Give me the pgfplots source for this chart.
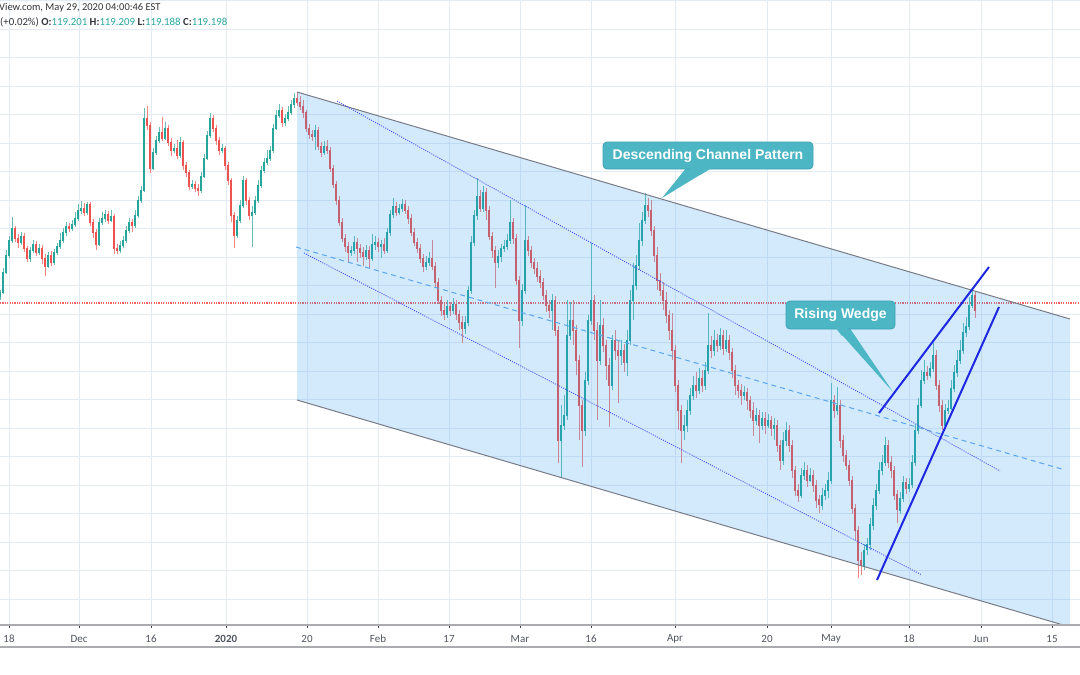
\documentclass[border=0pt]{standalone}
\usepackage{fontspec}
\setmainfont{Carlito}
\newfontfamily\annfont{Liberation Sans}
\usepackage{pgfplots}
\usepackage{pgfplotstable}
\pgfplotsset{compat=1.18}
\definecolor{cgreen}{RGB}{38,166,154}
\definecolor{cred}{RGB}{239,83,80}
\definecolor{wgreen}{RGB}{100,190,182}
\definecolor{wred}{RGB}{242,132,130}
\definecolor{gridc}{RGB}{228,235,242}
\definecolor{chfill}{RGB}{33,150,243}
\definecolor{chline}{RGB}{120,123,134}
\definecolor{dotblue}{RGB}{70,80,240}
\definecolor{dashblue}{RGB}{90,165,240}
\definecolor{wedgec}{RGB}{30,40,225}
\definecolor{callout}{RGB}{77,182,196}
\definecolor{calloutb}{RGB}{58,162,180}
\definecolor{txt}{RGB}{50,52,58}
\definecolor{axtxt}{RGB}{80,84,94}
\definecolor{hdrteal}{RGB}{38,166,154}
\definecolor{stripc}{RGB}{170,171,175}
\definecolor{pricec}{RGB}{240,100,100}

\pgfplotsset{
 upc/.style={restrict expr to domain={\thisrow{o}-\thisrow{c}}{0.001:100000}},
 dnc/.style={restrict expr to domain={\thisrow{o}-\thisrow{c}}{-100000:0}},
 candle/.style={draw=none, mark=none, forget plot},
}

% pixel-row values (down = larger); x in px
\pgfplotstableread{
x o h l c
0 296 290 300 292
3 292 268 294 272
6 272 250 274 255
9 255 236 258 240
12 240 217 243 228
15 228 226 242 238
18 238 234 248 242
21 242 232 245 236
24 236 233 252 248
27 248 246 262 258
30 258 247 262 250
33 250 240 253 244
36 244 241 256 252
39 252 244 255 248
42 248 245 264 258
45 258 254 276 266
48 266 252 268 255
51 255 251 266 262
54 262 249 265 252
57 252 243 255 246
60 246 233 249 240
63 240 228 243 232
66 232 222 236 226
69 226 223 232 228
72 228 220 231 224
75 224 212 227 218
78 218 204 221 210
81 210 201 214 208
84 208 203 216 212
87 212 202 215 204
90 204 202 226 222
93 222 219 238 232
96 232 229 250 244
99 244 218 246 222
102 222 212 225 218
105 218 210 222 214
108 214 211 224 220
111 220 210 222 216
114 216 214 254 248
117 248 244 254 250
120 250 241 253 245
123 245 236 248 240
126 240 226 243 230
129 230 218 233 222
132 222 219 232 225
135 225 210 228 215
138 215 196 218 200
141 200 186 203 190
144 190 108 192 118
147 118 106 130 125
150 125 122 173 168
153 168 148 170 152
156 152 136 155 140
159 140 127 143 132
162 132 117 141 138
165 138 122 140 128
168 128 125 146 142
171 142 138 156 150
174 150 144 153 148
177 148 140 159 155
180 155 137 158 142
183 142 140 170 165
186 165 162 177 172
189 172 170 190 186
192 186 180 189 184
195 184 181 192 188
198 188 184 196 190
201 190 172 193 176
204 176 154 178 158
207 158 131 160 135
210 135 113 138 118
213 118 115 132 128
216 128 125 145 140
219 140 137 155 150
222 150 144 153 148
225 148 146 170 165
228 165 162 185 180
231 180 178 222 215
234 215 212 248 235
237 235 216 238 220
240 220 200 223 205
243 205 176 208 180
246 180 178 205 200
249 200 197 220 215
252 215 206 247 212
255 212 196 215 200
258 200 180 203 185
261 185 166 188 170
264 170 158 173 162
267 162 150 165 158
270 158 146 161 150
273 150 124 153 128
276 128 110 130 115
279 115 104 118 110
282 110 107 127 122
285 122 114 126 118
288 118 106 121 112
291 112 100 115 104
294 104 93 108 98
297 98 92 106 102
300 102 96 110 106
303 106 100 118 112
306 112 110 132 128
309 128 124 139 134
312 134 130 141 136
315 136 125 150 130
318 130 127 150 146
321 146 142 157 152
324 152 141 155 146
327 146 140 154 150
330 150 147 172 168
333 168 165 188 184
336 184 181 205 200
339 200 196 226 222
342 222 218 242 238
345 238 234 252 246
348 246 242 262 252
351 252 246 256 250
354 250 236 254 242
357 242 238 262 248
360 248 244 258 252
363 252 247 266 256
366 256 245 260 250
369 250 246 268 258
372 258 234 261 244
375 244 236 250 242
378 242 238 252 246
381 246 240 258 244
384 244 238 254 250
387 250 228 253 232
390 232 210 236 214
393 214 198 218 206
396 206 202 216 212
399 212 204 215 208
402 208 199 212 204
405 204 200 214 210
408 210 206 224 218
411 218 214 236 232
414 232 228 246 242
417 242 238 253 248
420 248 244 263 258
423 258 254 272 266
426 266 256 270 262
429 262 252 266 258
432 258 240 270 266
435 266 262 287 282
438 282 278 304 300
441 300 296 316 310
444 310 304 320 314
447 314 300 318 306
450 306 302 316 310
453 310 298 314 304
456 304 300 320 314
459 314 310 330 322
462 322 316 343 328
465 328 316 334 322
468 322 286 326 290
471 290 236 294 242
474 242 210 246 215
477 215 178 220 196
480 196 190 212 208
483 208 186 212 192
486 192 188 220 210
489 210 206 240 236
492 236 232 258 250
495 250 246 288 262
498 262 250 268 256
501 256 244 262 248
504 248 240 252 246
507 246 234 250 240
510 240 200 244 222
513 222 218 244 238
516 238 234 285 280
519 280 276 348 320
522 320 284 326 290
525 290 205 294 240
528 240 236 256 250
531 250 246 268 262
534 262 258 274 268
537 268 262 282 276
540 276 270 288 282
543 282 278 300 295
546 295 290 312 305
549 305 300 318 310
552 310 294 330 300
555 300 296 336 330
558 330 326 463 440
561 440 405 477 425
564 425 395 430 415
567 415 300 420 335
570 335 302 340 320
573 320 300 345 330
576 330 325 375 360
579 360 355 440 405
582 405 400 467 430
585 430 372 436 380
588 380 315 385 320
591 320 243 325 300
594 300 295 340 330
597 330 322 420 360
600 360 300 365 325
603 325 318 352 345
606 345 340 380 365
609 365 358 427 385
612 385 335 390 340
615 340 330 360 350
618 350 340 403 355
621 355 340 365 350
624 350 344 372 362
627 362 330 376 340
630 340 290 345 300
633 300 263 320 285
636 285 255 290 265
639 265 223 270 240
642 240 212 246 220
645 220 193 224 205
648 205 198 217 210
651 210 200 236 230
654 230 226 262 255
657 255 247 290 280
660 280 273 296 290
663 290 282 310 300
666 300 292 323 315
669 315 310 340 330
672 330 313 360 350
675 350 345 392 385
678 385 380 430 410
681 410 405 463 430
684 430 415 440 425
687 425 400 432 410
690 410 388 415 395
693 395 376 400 385
696 385 372 398 390
699 390 368 394 378
702 378 370 392 385
705 385 362 390 370
708 370 313 374 345
711 345 336 358 350
714 350 330 356 340
717 340 334 352 345
720 345 328 350 335
723 335 330 355 348
726 348 330 352 340
729 340 335 360 352
732 352 348 378 370
735 370 365 395 385
738 385 380 398 390
741 390 384 405 395
744 395 386 400 392
747 392 388 410 400
750 400 396 418 410
753 410 402 436 420
756 420 408 425 415
759 415 410 443 425
762 425 412 430 418
765 418 412 434 425
768 425 414 428 420
771 420 416 436 428
774 428 418 440 425
777 425 420 452 445
780 445 440 470 460
783 460 432 465 440
786 440 422 446 430
789 430 425 452 445
792 445 440 478 470
795 470 466 496 490
798 490 484 502 495
801 495 468 498 475
804 475 462 480 470
807 470 465 487 480
810 480 468 482 475
813 475 470 492 485
816 485 480 508 500
819 500 495 513 505
822 505 488 510 495
825 495 484 500 490
828 490 472 498 480
831 480 383 484 400
834 400 395 418 410
837 410 387 415 405
840 405 400 448 440
843 440 435 462 455
846 455 450 470 465
849 465 460 486 480
852 480 476 514 508
855 508 504 540 530
858 530 526 578 560
861 560 552 575 565
864 565 544 570 550
867 550 538 555 545
870 545 518 550 525
873 525 498 530 505
876 505 484 510 490
879 490 462 494 470
882 470 455 475 462
885 462 437 466 445
888 445 440 468 462
891 462 456 478 470
894 470 466 500 495
897 495 490 523 510
900 510 492 514 498
903 498 476 502 482
906 482 478 494 488
909 488 478 492 484
912 484 455 488 462
915 462 424 466 430
918 430 398 434 405
921 405 370 408 380
924 380 360 384 372
927 372 366 380 375
930 375 362 378 368
933 368 343 372 355
936 355 350 390 385
939 385 380 412 405
942 405 400 430 425
945 425 404 428 410
948 410 400 414 408
951 408 380 410 388
954 388 365 392 372
957 372 350 377 360
960 360 340 364 350
963 350 323 354 332
966 332 317 337 326
969 326 297 330 305
972 305 290 308 295
975 295 292 318 310
}\candles

\begin{document}
\begin{tikzpicture}[x=1pt,y=1pt]
\path[use as bounding box] (0,0) rectangle (1080,-675);
\begin{axis}[
  at={(0,0)}, anchor=north west,
  width=1080pt, height=625pt, scale only axis,
  xmin=0, xmax=1080, ymin=-625, ymax=0,
  axis line style={draw=none},
  xtick={9,79,151,226,307,378,449,520,591,675,767,831,909,981,1052},
  xticklabels={18,Dec,16,{\bfseries 2020},20,Feb,17,Mar,16,Apr,20,May,18,Jun,15},
  ytick={-0.5,-29,-57,-86,-114,-143,-171,-200,-228.5,-257,-285.5,-314,-342.5,-371,-399.5,-428,-456.5,-485,-513.5,-542,-570.5,-599},
  yticklabels={},
  ytick style={draw=none},
  xtick pos=left, tick align=outside, major tick length=3pt,
  xtick style={draw=black!75, line width=0.8pt},
  x tick label style={anchor=center, yshift=-11pt, font=\fontsize{11}{13}\selectfont, text=axtxt},
  grid=major, major grid style={draw=gridc, line width=0.9pt},
  clip=true,
]
% price line
\addplot[pricec, line width=1.1pt, dash pattern=on 1.2pt off 1.2pt, mark=none, forget plot] coordinates {(0,-303) (1080,-303)};

% wicks
\addplot[candle, upc,
  error bars/.cd, y dir=both, y explicit, error mark=none,
  error bar style={draw=wgreen, line width=0.9pt}]
  table[x=x, y expr={-(\thisrow{h}+\thisrow{l})/2}, y error expr={(\thisrow{l}-\thisrow{h})/2}] {\candles};
\addplot[candle, dnc,
  error bars/.cd, y dir=both, y explicit, error mark=none,
  error bar style={draw=wred, line width=0.9pt}]
  table[x=x, y expr={-(\thisrow{h}+\thisrow{l})/2}, y error expr={(\thisrow{l}-\thisrow{h})/2}] {\candles};
% bodies
\addplot[candle, upc,
  error bars/.cd, y dir=both, y explicit, error mark=none,
  error bar style={draw=cgreen, line width=2.2pt}]
  table[x=x, y expr={-(\thisrow{o}+\thisrow{c})/2}, y error expr={abs(\thisrow{o}-\thisrow{c})/2+0.5}] {\candles};
\addplot[candle, dnc,
  error bars/.cd, y dir=both, y explicit, error mark=none,
  error bar style={draw=cred, line width=2.2pt}]
  table[x=x, y expr={-(\thisrow{o}+\thisrow{c})/2}, y error expr={abs(\thisrow{o}-\thisrow{c})/2+0.5}] {\candles};

% channel
\addplot[draw=none, fill=chfill, fill opacity=0.2, forget plot] coordinates {(297,-92) (1070,-319) (1070,-627) (297,-400)} -- cycle;
\addplot[chline, line width=1pt, mark=none, forget plot] coordinates {(297,-92) (1070,-319)};
\addplot[chline, line width=1pt, mark=none, forget plot] coordinates {(297,-400) (1070,-627)};
\addplot[dashblue, line width=1pt, mark=none, dash pattern=on 5pt off 4pt, forget plot] coordinates {(296,-247) (1065,-470)};
\addplot[dotblue, line width=0.9pt, mark=none, dash pattern=on 1pt off 1.3pt, forget plot] coordinates {(337,-101) (1000,-471)};
\addplot[dotblue, line width=0.9pt, mark=none, dash pattern=on 1pt off 1.3pt, forget plot] coordinates {(304,-253) (922,-575)};
% wedge
\addplot[wedgec, line width=2pt, mark=none, forget plot] coordinates {(879,-413) (989,-267)};
\addplot[wedgec, line width=2pt, mark=none, forget plot] coordinates {(877,-580) (999,-307)};

% callouts
\fill[callout] (axis cs:687,-167) -- (axis cs:713,-167) -- (axis cs:662,-198) -- cycle;
\filldraw[fill=callout, draw=calloutb, line width=0.8pt, rounded corners=4pt] (axis cs:603,-142) rectangle (axis cs:813,-169);
\fill[callout] (axis cs:687,-167) -- (axis cs:713,-167) -- (axis cs:700,-175) -- cycle;
\node[font=\annfont\bfseries\fontsize{14}{16}\selectfont, text=white] at (axis cs:708,-155.5) {Descending Channel Pattern};

\fill[callout] (axis cs:835,-327) -- (axis cs:849,-327) -- (axis cs:893,-392) -- cycle;
\filldraw[fill=callout, draw=calloutb, line width=0.8pt, rounded corners=4pt] (axis cs:786,-301) rectangle (axis cs:895,-329);
\fill[callout] (axis cs:835,-327) -- (axis cs:849,-327) -- (axis cs:842,-336) -- cycle;
\node[font=\annfont\bfseries\fontsize{14}{16}\selectfont, text=white] at (axis cs:840.5,-315) {Rising Wedge};
\end{axis}
% time axis strip
\draw[stripc, line width=1.5pt] (0,-625) -- (1080,-625);
\draw[stripc, line width=1.5pt] (0,-647) -- (1080,-647);
% header
\node[anchor=west, inner sep=0pt, text=txt, font=\fontsize{10.5}{12}\selectfont] at (-1,-8) {View.com, May 29, 2020 04:00:46 EST};
\node[anchor=west, inner sep=0pt, text=txt, font=\fontsize{10.8}{12}\selectfont] at (0,-22) {(+0.02\%) \textbf{O:}\textcolor{hdrteal}{119.201} \textbf{H:}\textcolor{hdrteal}{119.209} \textbf{L:}\textcolor{hdrteal}{119.188} \textbf{C:}\textcolor{hdrteal}{119.198}};
\end{tikzpicture}
\end{document}
